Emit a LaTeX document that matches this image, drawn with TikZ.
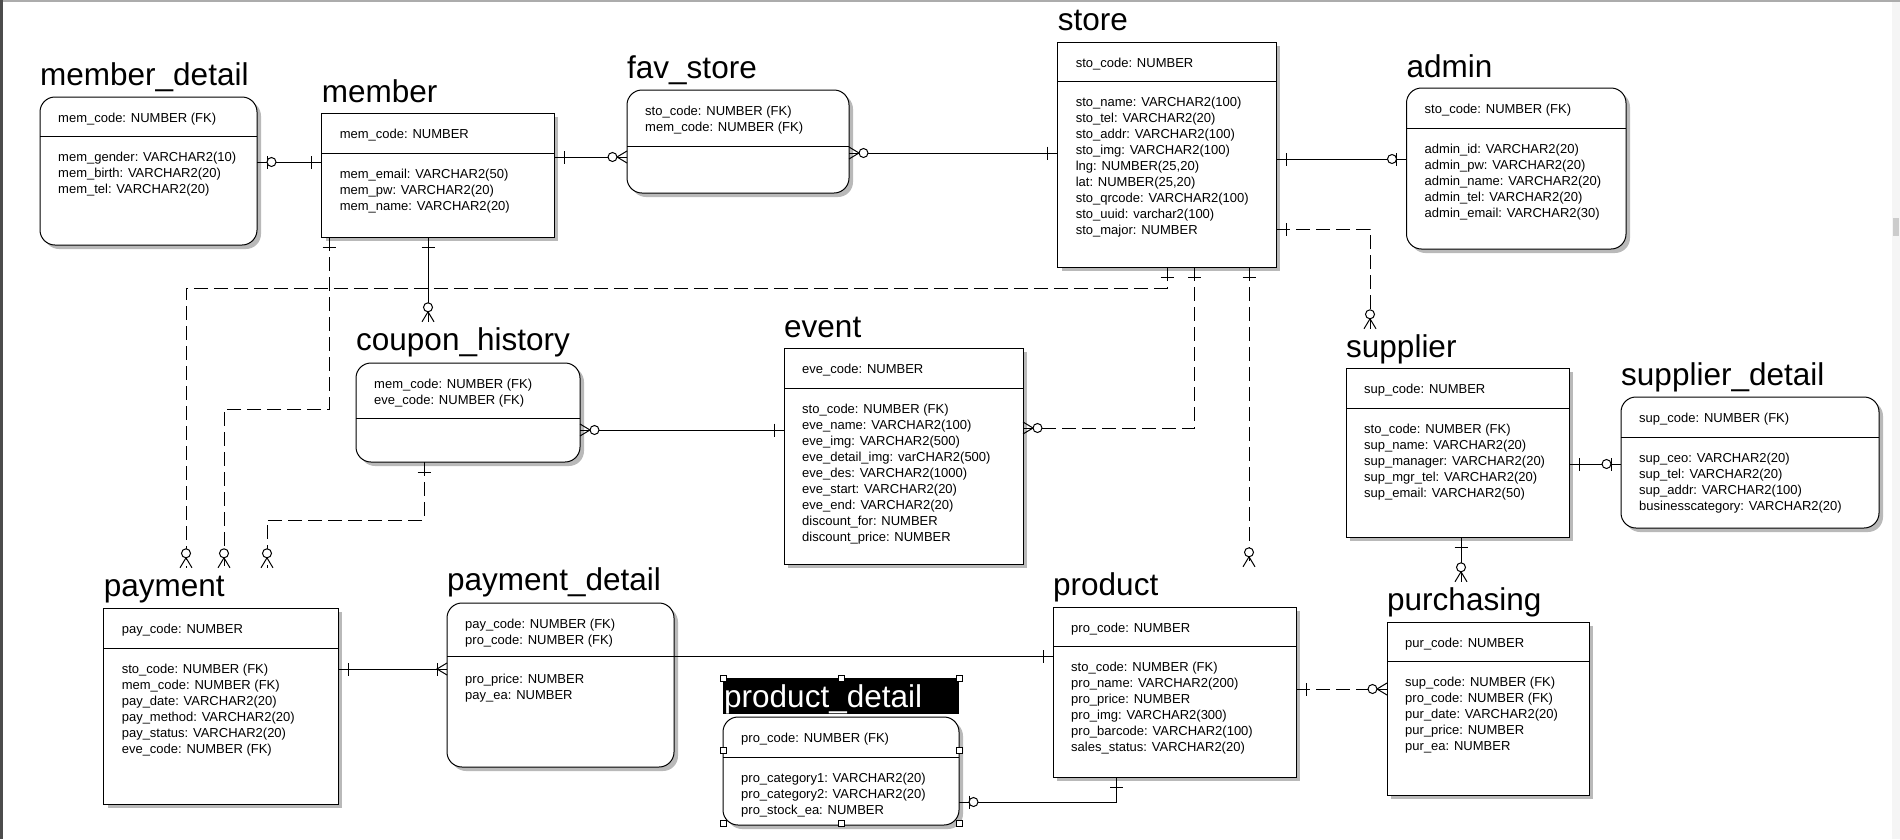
\documentclass[tikz,border=0pt]{standalone}
\usepackage{fontspec}
\setmainfont{Liberation Sans}
\usetikzlibrary{shadows,arrows,positioning,calc,decorations.markings}

\tikzset{
  entity/.style={draw,fill=white,line width=1pt,inner sep=0pt,outer sep=0pt,anchor=north west,
    drop shadow={shadow xshift=4pt,shadow yshift=-4pt,fill=gray!55,opacity=1}},
  dep/.style={entity,rounded corners=15pt},
  ename/.style={anchor=base west,inner sep=0pt,text height=28pt,font=\fontsize{31.5}{31.5}\selectfont},
  attr/.style={anchor=north west,inner sep=0pt,align=left,font=\fontsize{13}{16}\selectfont},
  rel/.style={line width=1pt},
  nonid/.style={rel,dash pattern=on 14pt off 6pt},
  bar end/.style={postaction={decorate,decoration={markings,mark=at position 1 with
    {\draw[solid,line width=1pt] (-10pt,-6.5pt) -- (-10pt,6.5pt);}}}},
  bar start/.style={postaction={decorate,decoration={markings,mark=at position 0 with
    {\draw[solid,line width=1pt] (10pt,-6.5pt) -- (10pt,6.5pt);}}}},
  zo end/.style={postaction={decorate,decoration={markings,mark=at position 1 with
    {\draw[solid,line width=1pt] (-10pt,-6.5pt) -- (-10pt,6.5pt);
     \draw[solid,line width=1pt,fill=white] (-14.5pt,0pt) circle (4.5pt);}}}},
  zo start/.style={postaction={decorate,decoration={markings,mark=at position 0 with
    {\draw[solid,line width=1pt] (10pt,-6.5pt) -- (10pt,6.5pt);
     \draw[solid,line width=1pt,fill=white] (14.5pt,0pt) circle (4.5pt);}}}},
  zm end/.style={postaction={decorate,decoration={markings,mark=at position 1 with
    {\draw[solid,line width=1pt] (0pt,-6pt) -- (-10pt,0pt) -- (0pt,6pt);
     \draw[solid,line width=1pt,fill=white] (-14.5pt,0pt) circle (4.5pt);}}}},
  om end/.style={postaction={decorate,decoration={markings,mark=at position 1 with
    {\draw[solid,line width=1pt] (0pt,-6pt) -- (-10pt,0pt) -- (0pt,6pt);
     \draw[solid,line width=1pt] (-10pt,-6.5pt) -- (-10pt,6.5pt);}}}},
}

\begin{document}
\begin{tikzpicture}[x=1pt,y=-1pt]
\useasboundingbox (0,0) rectangle (1900,839);
% Window frame
\fill[gray!65] (0,0) rectangle (1900,2);
\fill[gray!60!black] (0,0) rectangle (3,839);
\fill[gray!8] (1892,2) rectangle (1900,839);
\fill[gray!40] (1893,218) rectangle (1899,236);
% Entity member_detail
\node[dep,minimum width=217pt,minimum height=148pt] (member_detail) at (40,97) {};
\node[ename] (member_detail_t) at (40,85) {member\_detail};
\draw[line width=1pt] (member_detail.west |- 0,136) -- (member_detail.east |- 0,136);
\node[attr] (member_detail_k) at (58,113) {mem\_code: NUMBER (FK)};
\node[attr] (member_detail_a) at (58,152) {mem\_gender: VARCHAR2(10)\\mem\_birth: VARCHAR2(20)\\mem\_tel: VARCHAR2(20)};
% Entity member
\node[entity,minimum width=232.4pt,minimum height=124pt] (member) at (321.6,113) {};
\node[ename] (member_t) at (321.6,102) {member};
\draw[line width=1pt] (member.west |- 0,153) -- (member.east |- 0,153);
\node[attr] (member_k) at (339.6,129) {mem\_code: NUMBER};
\node[attr] (member_a) at (339.6,169) {mem\_email: VARCHAR2(50)\\mem\_pw: VARCHAR2(20)\\mem\_name: VARCHAR2(20)};
% Entity fav_store
\node[dep,minimum width=222pt,minimum height=103pt] (fav_store) at (627,90) {};
\node[ename] (fav_store_t) at (627,78) {fav\_store};
\draw[line width=1pt] (fav_store.west |- 0,146) -- (fav_store.east |- 0,146);
\node[attr] (fav_store_k) at (645,106) {sto\_code: NUMBER (FK)\\mem\_code: NUMBER (FK)};
% Entity store
\node[entity,minimum width=218.4pt,minimum height=225pt] (store) at (1057.6,42) {};
\node[ename] (store_t) at (1057.6,30) {store};
\draw[line width=1pt] (store.west |- 0,81) -- (store.east |- 0,81);
\node[attr] (store_k) at (1075.6,58) {sto\_code: NUMBER};
\node[attr] (store_a) at (1075.6,97) {sto\_name: VARCHAR2(100)\\sto\_tel: VARCHAR2(20)\\sto\_addr: VARCHAR2(100)\\sto\_img: VARCHAR2(100)\\lng: NUMBER(25,20)\\lat: NUMBER(25,20)\\sto\_qrcode: VARCHAR2(100)\\sto\_uuid: varchar2(100)\\sto\_major: NUMBER};
% Entity admin
\node[dep,minimum width=219.5pt,minimum height=161pt] (admin) at (1406.5,88) {};
\node[ename] (admin_t) at (1406.5,77) {admin};
\draw[line width=1pt] (admin.west |- 0,128) -- (admin.east |- 0,128);
\node[attr] (admin_k) at (1424.5,104) {sto\_code: NUMBER (FK)};
\node[attr] (admin_a) at (1424.5,144) {admin\_id: VARCHAR2(20)\\admin\_pw: VARCHAR2(20)\\admin\_name: VARCHAR2(20)\\admin\_tel: VARCHAR2(20)\\admin\_email: VARCHAR2(30)};
% Entity coupon_history
\node[dep,minimum width=224pt,minimum height=99pt] (coupon_history) at (356,363) {};
\node[ename] (coupon_history_t) at (356,350) {coupon\_history};
\draw[line width=1pt] (coupon_history.west |- 0,418) -- (coupon_history.east |- 0,418);
\node[attr] (coupon_history_k) at (374,379) {mem\_code: NUMBER (FK)\\eve\_code: NUMBER (FK)};
% Entity event
\node[entity,minimum width=239pt,minimum height=216pt] (event) at (784,348) {};
\node[ename] (event_t) at (784,337) {event};
\draw[line width=1pt] (event.west |- 0,388) -- (event.east |- 0,388);
\node[attr] (event_k) at (802,364) {eve\_code: NUMBER};
\node[attr] (event_a) at (802,404) {sto\_code: NUMBER (FK)\\eve\_name: VARCHAR2(100)\\eve\_img: VARCHAR2(500)\\eve\_detail\_img: varCHAR2(500)\\eve\_des: VARCHAR2(1000)\\eve\_start: VARCHAR2(20)\\eve\_end: VARCHAR2(20)\\discount\_for: NUMBER\\discount\_price: NUMBER};
% Entity supplier
\node[entity,minimum width=223pt,minimum height=169pt] (supplier) at (1346,368) {};
\node[ename] (supplier_t) at (1346,357) {supplier};
\draw[line width=1pt] (supplier.west |- 0,408) -- (supplier.east |- 0,408);
\node[attr] (supplier_k) at (1364,384) {sup\_code: NUMBER};
\node[attr] (supplier_a) at (1364,424) {sto\_code: NUMBER (FK)\\sup\_name: VARCHAR2(20)\\sup\_manager: VARCHAR2(20)\\sup\_mgr\_tel: VARCHAR2(20)\\sup\_email: VARCHAR2(50)};
% Entity supplier_detail
\node[dep,minimum width=258pt,minimum height=131pt] (supplier_detail) at (1621,397) {};
\node[ename] (supplier_detail_t) at (1621,385) {supplier\_detail};
\draw[line width=1pt] (supplier_detail.west |- 0,437) -- (supplier_detail.east |- 0,437);
\node[attr] (supplier_detail_k) at (1639,413) {sup\_code: NUMBER (FK)};
\node[attr] (supplier_detail_a) at (1639,453) {sup\_ceo: VARCHAR2(20)\\sup\_tel: VARCHAR2(20)\\sup\_addr: VARCHAR2(100)\\businesscategory: VARCHAR2(20)};
% Entity payment
\node[entity,minimum width=234.4pt,minimum height=196pt] (payment) at (103.6,608) {};
\node[ename] (payment_t) at (103.6,596) {payment};
\draw[line width=1pt] (payment.west |- 0,648) -- (payment.east |- 0,648);
\node[attr] (payment_k) at (121.6,624) {pay\_code: NUMBER};
\node[attr] (payment_a) at (121.6,664) {sto\_code: NUMBER (FK)\\mem\_code: NUMBER (FK)\\pay\_date: VARCHAR2(20)\\pay\_method: VARCHAR2(20)\\pay\_status: VARCHAR2(20)\\eve\_code: NUMBER (FK)};
% Entity payment_detail
\node[dep,minimum width=227pt,minimum height=164pt] (payment_detail) at (447,603) {};
\node[ename] (payment_detail_t) at (447,590) {payment\_detail};
\draw[line width=1pt] (payment_detail.west |- 0,656) -- (payment_detail.east |- 0,656);
\node[attr] (payment_detail_k) at (465,619) {pay\_code: NUMBER (FK)\\pro\_code: NUMBER (FK)};
\node[attr] (payment_detail_a) at (465,674) {pro\_price: NUMBER\\pay\_ea: NUMBER};
% Entity product
\node[entity,minimum width=243pt,minimum height=170pt] (product) at (1053,607) {};
\node[ename] (product_t) at (1053,595) {product};
\draw[line width=1pt] (product.west |- 0,646) -- (product.east |- 0,646);
\node[attr] (product_k) at (1071,623) {pro\_code: NUMBER};
\node[attr] (product_a) at (1071,662) {sto\_code: NUMBER (FK)\\pro\_name: VARCHAR2(200)\\pro\_price: NUMBER\\pro\_img: VARCHAR2(300)\\pro\_barcode: VARCHAR2(100)\\sales\_status: VARCHAR2(20)};
% Entity product_detail (selected)
\node[dep,minimum width=236pt,minimum height=108pt] (product_detail) at (723,717) {};
\fill[black] (723,678) rectangle (959,714);
\node[ename,text=white] (product_detail_t) at (724,707) {product\_detail};
\draw[line width=1pt] (product_detail.west |- 0,757) -- (product_detail.east |- 0,757);
\node[attr] (product_detail_k) at (741,733) {pro\_code: NUMBER (FK)};
\node[attr] (product_detail_a) at (741,773) {pro\_category1: VARCHAR2(20)\\pro\_category2: VARCHAR2(20)\\pro\_stock\_ea: NUMBER};
\draw[fill=white,line width=0.8pt] (720,675) rectangle (726,681) (838,675) rectangle (844,681) (956,675) rectangle (962,681)
  (720,747.5) rectangle (726,753.5) (956,747.5) rectangle (962,753.5)
  (720,820) rectangle (726,826) (838,820) rectangle (844,826) (956,820) rectangle (962,826);
% Entity purchasing
\node[entity,minimum width=202pt,minimum height=173pt] (purchasing) at (1387,622) {};
\node[ename] (purchasing_t) at (1387,610) {purchasing};
\draw[line width=1pt] (purchasing.west |- 0,661) -- (purchasing.east |- 0,661);
\node[attr] (purchasing_k) at (1405,638) {pur\_code: NUMBER};
\node[attr] (purchasing_a) at (1405,677) {sup\_code: NUMBER (FK)\\pro\_code: NUMBER (FK)\\pur\_date: VARCHAR2(20)\\pur\_price: NUMBER\\pur\_ea: NUMBER};
% Relationships, identifying
\draw[rel,zo start,bar end] (member_detail.east |- 0,162) -- (member.west |- 0,162);
\draw[rel,bar start,zm end] (member.east |- 0,157) -- (fav_store.west |- 0,157);
\draw[rel,bar start,zm end] (store.west |- 0,153) -- (fav_store.east |- 0,153);
\draw[rel,bar start,zo end] (store.east |- 0,159) -- (admin.west |- 0,159);
\draw[rel,bar start,zm end] (member.south -| 428,0) -- (coupon_history_t.north -| 428,0);
\draw[rel,bar start,zm end] (event.west |- 0,430) -- (coupon_history.east |- 0,430);
\draw[rel,bar start,zo end] (supplier.east |- 0,464) -- (supplier_detail.west |- 0,464);
\draw[rel,bar start,zm end] (supplier.south -| 1461,0) -- (purchasing_t.north -| 1461,0);
\draw[rel,bar start,om end] (payment.east |- 0,669) -- (payment_detail.west |- 0,669);
\draw[rel,bar end] (payment_detail.east |- 0,656) -- (product.west |- 0,656);
\draw[rel,bar start,zo end] (product.south -| 1116.6,0) |- (product_detail.east |- 0,802);
% Relationships, non identifying
\draw[nonid,bar start,zm end] (store.east |- 0,229) -| (supplier_t.north -| 1370,0);
\draw[nonid,bar start,zm end] (store.south -| 1249,0) -- (product_t.north -| 1249,0);
\draw[nonid,bar start,zm end] (store.south -| 1194.6,0) |- (event.east |- 0,428);
\draw[nonid,bar start,zm end] (store.south -| 1167,0) |- (186,288) -- (payment_t.north -| 186,0);
\draw[nonid,bar start,zm end] (member.south -| 329,0) |- (224,409) -- (payment_t.north -| 224,0);
\draw[nonid,bar start,zm end] (coupon_history.south -| 424,0) |- (267,520) -- (payment_t.north -| 267,0);
\draw[nonid,bar start,zm end] (product.east |- 0,689) -- (purchasing.west |- 0,689);
\end{tikzpicture}
\end{document}
